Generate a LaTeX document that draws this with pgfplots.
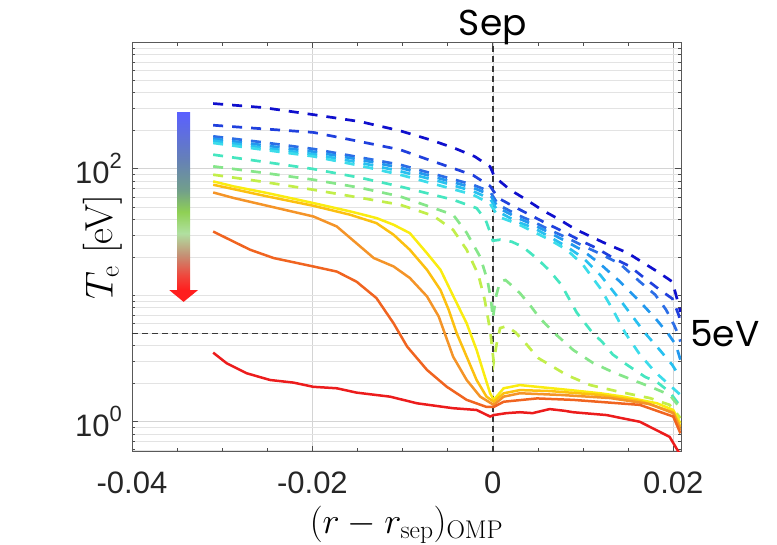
\RequirePackage{fix-cm}
\documentclass[border=0pt]{standalone}
\usepackage[no-math]{fontspec}
\usepackage{pgfplots}
\pgfplotsset{compat=1.18}
\newfontfamily\tickfont{Liberation Sans}
\newfontfamily\notefont{Poppins}

% scan colours: dashed (hot, attached) -> solid (detached)
\definecolor{c1}{RGB}{15,15,205}
\definecolor{c2}{RGB}{32,64,221}
\definecolor{c3}{RGB}{44,110,230}
\definecolor{c4}{RGB}{34,152,238}
\definecolor{c5}{RGB}{40,192,240}
\definecolor{c6}{RGB}{60,220,234}
\definecolor{c7}{RGB}{70,230,192}
\definecolor{c8}{RGB}{134,230,138}
\definecolor{c9}{RGB}{194,238,74}
\definecolor{c10}{RGB}{250,236,16}
\definecolor{c11}{RGB}{252,192,16}
\definecolor{c12}{RGB}{244,148,40}
\definecolor{c13}{RGB}{240,100,32}
\definecolor{c14}{RGB}{236,28,28}
\definecolor{refline}{RGB}{56,56,56}

% colour ramp of the trend arrow (bottom = red, top = blue)
\definecolor{ar1}{RGB}{255,30,30}
\definecolor{ar2}{RGB}{240,70,60}
\definecolor{ar3}{RGB}{196,146,118}
\definecolor{ar4}{RGB}{176,224,160}
\definecolor{ar5}{RGB}{143,208,84}
\definecolor{ar6}{RGB}{114,160,138}
\definecolor{ar7}{RGB}{101,128,184}
\definecolor{ar8}{RGB}{90,96,255}
\pgfdeclareverticalshading{trendarrow}{100bp}{%
  color(0bp)=(ar1); color(25bp)=(ar1); color(29bp)=(ar2); color(35bp)=(ar3);
  color(41bp)=(ar4); color(47bp)=(ar5); color(53bp)=(ar6); color(62bp)=(ar7);
  color(75bp)=(ar8); color(100bp)=(ar8)}

\pgfplotsset{
  hot/.style={line width=2.7pt, dash pattern=on 10pt off 9pt},
  cold/.style={line width=2.5pt},
}

\begin{document}
\begin{tikzpicture}
\begin{axis}[
  at={(0pt,0pt)}, anchor=south west,
  scale only axis, width=549pt, height=409.4pt,
  ymode=log,
  xmin=-0.04, xmax=0.02086, ymin=0.58, ymax=1000,
  scaled x ticks=false,
  xtick={-0.04,-0.02,0,0.02},
  xticklabels={-0.04,-0.02,0,0.02},
  minor x tick num=3,
  ytick={1,100},
  yticklabels={10\raisebox{15pt}{\fontsize{22}{22}\selectfont 0},
               10\raisebox{15pt}{\fontsize{22}{22}\selectfont 2}},
  minor ytick={0.6,0.7,0.8,0.9,2,3,4,5,6,7,8,9,10,20,30,40,50,60,70,80,90,
               200,300,400,500,600,700,800,900},
  xmajorgrids, ymajorgrids, yminorgrids,
  major grid style={draw=black!17, line width=0.6pt},
  minor grid style={draw=black!11, line width=0.6pt},
  tick align=inside,
  major tick length=6pt, minor tick length=3.5pt,
  tick style={draw=black!70, line width=0.7pt},
  axis line style={draw=black!65, line width=0.8pt},
  ticklabel style={font=\tickfont\fontsize{31}{31}\selectfont, text=black!85},
  xticklabel style={inner sep=0pt, anchor=north, yshift=-20pt},
  yticklabel style={inner sep=0pt, anchor=east, xshift=-10pt},
  xlabel={$(r-r_\mathrm{sep})_\mathrm{OMP}$},
  ylabel={$T_\mathrm{e}$ [eV]},
  xlabel style={font=\fontsize{36.5}{36.5}\selectfont,
                at={(axis description cs:0.5,0)}, anchor=center, yshift=-73pt},
  ylabel style={font=\fontsize{39}{39}\selectfont,
                at={(axis description cs:0,0.5)}, anchor=center, yshift=29pt},
]

% reference lines: separatrix and 5 eV
\draw[refline, line width=1.4pt, dash pattern=on 6pt off 4pt]
  (axis cs:0,0.58) -- (axis cs:0,1000);
\draw[refline, line width=1.4pt, dash pattern=on 6pt off 4pt]
  (axis cs:-0.04,5) -- (axis cs:0.02086,5);

% attached profiles (dashed)
\addplot[c1, hot] coordinates {
(-0.0310,328) (-0.0255,305) (-0.0199,268) (-0.0147,236) (-0.0103,200)
(-0.0070,170) (-0.0044,147) (-0.0020,125) (-0.0003,104) (0.0002,86)
(0.0008,79.5) (0.0019,68.3) (0.0038,56.5) (0.0054,47.5) (0.0073,40)
(0.0091,33.4) (0.0110,28.8) (0.0128,25.1) (0.0149,21.7) (0.0165,18.4)
(0.0183,15.3) (0.0199,12.8) (0.0203,10.1) (0.0208,7.4)};
\addplot[c2, hot] coordinates {
(-0.0310,221) (-0.0255,207) (-0.0199,194) (-0.0147,164) (-0.0103,141.7)
(-0.0070,117) (-0.0044,101) (-0.0022,89) (-0.0003,73) (0.0006,58.7)
(0.0023,50.4) (0.0041,43.3) (0.0060,36.8) (0.0078,31.9) (0.0097,27.1)
(0.0115,23.6) (0.0133,19.8) (0.0152,16.9) (0.0168,13.7) (0.0184,11.2)
(0.0199,9.4) (0.0206,7.0) (0.0208,6.2)};
\addplot[c3, hot] coordinates {
(-0.0310,180.5) (-0.0255,162) (-0.0199,143.5) (-0.0147,123) (-0.0103,107.8)
(-0.0058,88) (-0.0022,74.8) (-0.0003,66) (0.0006,52) (0.0027,43.3)
(0.0045,38.1) (0.0063,32.9) (0.0082,28.5) (0.0100,24.6) (0.0119,21.3)
(0.0141,17.7) (0.0163,12.8) (0.0180,10.1) (0.0192,7.7) (0.0201,5.8)
(0.0205,5.0) (0.0208,4.3)};
\addplot[c4, hot] coordinates {
(-0.0310,173) (-0.0255,153.8) (-0.0199,136.6) (-0.0147,118) (-0.0103,102)
(-0.0058,83.5) (-0.0022,70.8) (-0.0003,62.4) (0.0006,49.2) (0.0027,41.0)
(0.0045,36.1) (0.0063,31.2) (0.0082,26.5) (0.0100,22.5) (0.0119,17.7)
(0.0141,12.8) (0.0163,8.9) (0.0180,6.6) (0.0194,5.0) (0.0203,4.05)
(0.0208,3.08)};
\addplot[c5, hot] coordinates {
(-0.0310,166.9) (-0.0255,146.9) (-0.0199,130.5) (-0.0147,111.8) (-0.0103,95.7)
(-0.0058,79.1) (-0.0022,66.5) (-0.0003,58) (0.0006,45.8) (0.0027,38.1)
(0.0045,34.2) (0.0063,29.0) (0.0082,24.2) (0.0100,19.8) (0.0119,14.5)
(0.0141,9.2) (0.0169,5.0) (0.0185,3.7) (0.0199,2.81) (0.0208,2.22)};
\addplot[c6, hot] coordinates {
(-0.0310,160) (-0.0255,141.7) (-0.0199,125.4) (-0.0147,105.8) (-0.0103,89.8)
(-0.0058,73.5) (-0.0022,62.4) (-0.0003,52.9) (0.0006,41.8) (0.0027,36.8)
(0.0045,31.8) (0.0063,27.5) (0.0082,22.9) (0.0100,17.4) (0.0119,11.4)
(0.0133,7.7) (0.0147,5.0) (0.0163,3.4) (0.0180,2.47) (0.0196,1.95)
(0.0208,1.63)};
\addplot[c7, hot] coordinates {
(-0.0310,129.3) (-0.0255,113.8) (-0.0199,99.6) (-0.0147,85.0) (-0.0103,72.5)
(-0.0044,56.9) (-0.0018,48.9) (-0.0008,39.5) (-0.0002,30.1) (0.0000,27)
(0.0008,27.5) (0.0021,26.5) (0.0033,24.2) (0.0048,19.8) (0.0062,15.9)
(0.0076,12.1) (0.0093,7.3) (0.0111,5.0) (0.0121,4.3) (0.0133,3.4)
(0.0149,2.81) (0.0169,2.26) (0.0182,2.06) (0.0196,1.72) (0.0205,1.41)
(0.0208,1.24)};
\addplot[c8, hot] coordinates {
(-0.0310,104.5) (-0.0255,93.1) (-0.0199,82.0) (-0.0147,70.8) (-0.0103,60.5)
(-0.0044,43.3) (-0.0029,31.2) (-0.0014,20.1) (-0.0006,13.2) (-0.0002,9.2)
(0.0000,6.6) (0.0004,10.1) (0.0008,12.8) (0.0014,13.2) (0.0019,12.3)
(0.0030,10.4) (0.0041,8.4) (0.0052,6.6) (0.0070,4.9) (0.0089,3.7)
(0.0111,2.92) (0.0133,2.47) (0.0155,2.14) (0.0178,1.85) (0.0196,1.63)
(0.0208,1.28)};
\addplot[c9, hot] coordinates {
(-0.0310,89.8) (-0.0255,79.0) (-0.0199,68.3) (-0.0147,59.0) (-0.0103,52.0)
(-0.0066,42.5) (-0.0044,32.9) (-0.0029,22.9) (-0.0016,14.5) (-0.0009,9.2)
(-0.0003,5.3) (0.0001,2.97) (0.0004,4.05) (0.0008,5.5) (0.0015,5.7)
(0.0025,5.1) (0.0036,4.2) (0.0050,3.2) (0.0069,2.66) (0.0082,2.34)
(0.0108,1.95) (0.0141,1.72) (0.0174,1.54) (0.0196,1.36) (0.0208,1.07)};

% detached profiles (solid)
\addplot[c10, cold] coordinates {
(-0.0310,79.5) (-0.0287,72.5) (-0.0250,64.3) (-0.0199,53.6) (-0.0158,46.0)
(-0.0129,40.8) (-0.0110,36.1) (-0.0092,31.0) (-0.0073,21.5) (-0.0058,15.9)
(-0.0044,9.9) (-0.0029,6.0) (-0.0018,3.7) (-0.0010,2.42) (-0.0003,1.68)
(0.0001,1.49) (0.0012,1.84) (0.0030,1.95) (0.0049,1.89) (0.0086,1.78)
(0.0119,1.68) (0.0145,1.58) (0.0182,1.40) (0.0200,1.24) (0.0208,0.97)};
\addplot[c11, cold] coordinates {
(-0.0310,74.8) (-0.0250,60.5) (-0.0199,51.0) (-0.0158,43.3) (-0.0129,37.2)
(-0.0110,30.1) (-0.0092,22.9) (-0.0073,15.9) (-0.0058,11.0) (-0.0049,7.7)
(-0.0040,5.0) (-0.0029,3.27) (-0.0018,2.14) (-0.0007,1.58) (0.0001,1.44)
(0.0012,1.68) (0.0030,1.78) (0.0063,1.75) (0.0119,1.63) (0.0163,1.46)
(0.0200,1.19) (0.0208,0.91)};
\addplot[c12, cold] coordinates {
(-0.0310,65.0) (-0.0287,58.7) (-0.0199,42.0) (-0.0173,35.0) (-0.0132,19.7)
(-0.0110,16.9) (-0.0092,13.7) (-0.0073,9.8) (-0.0060,6.8) (-0.0044,3.27)
(-0.0029,2.14) (-0.0014,1.58) (0.0001,1.36) (0.0012,1.58) (0.0030,1.68)
(0.0075,1.63) (0.0130,1.54) (0.0174,1.38) (0.0200,1.17) (0.0208,0.86)};
\addplot[c13, cold] coordinates {
(-0.0310,31.9) (-0.0269,22.9) (-0.0243,19.7) (-0.0199,16.9) (-0.0173,15.4)
(-0.0151,12.8) (-0.0129,9.5) (-0.0110,6.0) (-0.0095,3.93) (-0.0073,2.57)
(-0.0051,1.89) (-0.0029,1.49) (-0.0007,1.31) (0.0001,1.31) (0.0012,1.44)
(0.0049,1.53) (0.0089,1.49) (0.0163,1.36) (0.0200,1.10) (0.0208,0.81)};
\addplot[c14, cold] coordinates {
(-0.0310,3.52) (-0.0295,2.90) (-0.0273,2.42) (-0.0247,2.14) (-0.0221,2.04)
(-0.0199,1.89) (-0.0173,1.84) (-0.0151,1.70) (-0.0114,1.58) (-0.0084,1.40)
(-0.0044,1.28) (-0.0018,1.24) (-0.0003,1.10) (0.0001,1.13) (0.0015,1.17)
(0.0030,1.19) (0.0044,1.17) (0.0063,1.26) (0.0080,1.22) (0.0089,1.19)
(0.0126,1.13) (0.0163,1.00) (0.0196,0.76) (0.0208,0.545)};

% trend arrow
\shade[shading=trendarrow] (axis cs:-0.03501,11) rectangle (axis cs:-0.03355,278);
\fill[ar1] (axis cs:-0.03587,11) -- (axis cs:-0.03268,11) -- (axis cs:-0.03428,8.87) -- cycle;

\coordinate (septop) at (axis cs:0,1000);
\coordinate (fiveeV) at (axis cs:0.02086,5);
\end{axis}

\node[font=\notefont\fontsize{36}{36}\selectfont, anchor=base, inner sep=0pt]
  at ([yshift=7pt]septop) {Sep};
\node[font=\notefont\fontsize{36}{36}\selectfont, anchor=west, inner sep=0pt]
  at ([xshift=9pt]fiveeV) {5eV};

\pgfresetboundingbox
\path[use as bounding box] (-132pt,-92.3pt) rectangle (645pt,451.7pt);
\end{tikzpicture}
\end{document}
